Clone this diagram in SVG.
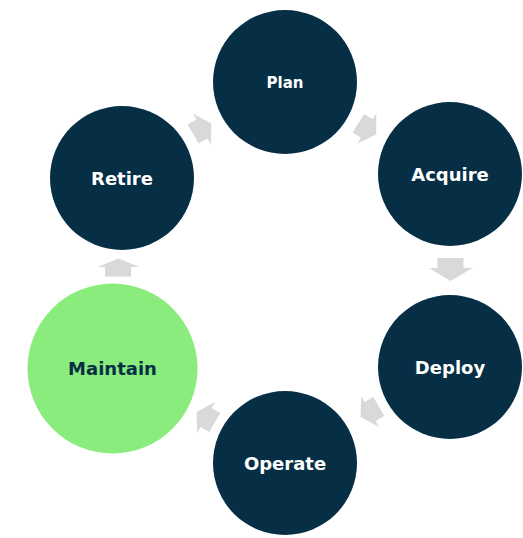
<svg xmlns="http://www.w3.org/2000/svg" width="523" height="538" viewBox="0 0 523 538">
<defs>
<style>
.node{fill:#062F46;}
.green{fill:#89EC7C;}
.lbl{font-family:"DejaVu Sans","Liberation Sans",sans-serif;font-weight:bold;fill:#FFFFFF;text-anchor:middle;}
.dark{fill:#062F46;}
.arr{fill:#D9D9D9;}
</style>
<path id="diag" d="M-9,-11 L1,-11 L1,-18 L12,0 L1,18 L1,11 L-9,11 Z"/>
</defs>
<rect width="523" height="538" fill="#FFFFFF"/>
<g id="connectors">
<use href="#diag" class="arr" transform="translate(366,128) rotate(32)"/>
<path class="arr" d="M437.5,258 L463.5,258 L463.5,268 L472.5,268 L450.5,281 L429,268 L437.5,268 Z"/>
<use href="#diag" class="arr" transform="translate(371,411) rotate(150)"/>
<use href="#diag" class="arr" transform="translate(207,418) rotate(210)"/>
<path class="arr" d="M105,276.5 L131,276.5 L131,267 L139.5,267 L118.5,258.5 L97.5,267 L105,267 Z"/>
<use href="#diag" class="arr" transform="translate(201,129.5) rotate(-30)"/>
</g>
<g id="plan">
<circle class="node" cx="285" cy="82" r="72"/>
<text class="lbl" x="285" y="87.5" font-size="15">Plan</text>
</g>
<g id="acquire">
<circle class="node" cx="450" cy="174" r="72"/>
<text class="lbl" x="450" y="180.5" font-size="18">Acquire</text>
</g>
<g id="deploy">
<circle class="node" cx="450" cy="367" r="72"/>
<text class="lbl" x="450" y="373.5" font-size="18">Deploy</text>
</g>
<g id="operate">
<circle class="node" cx="285" cy="463" r="72"/>
<text class="lbl" x="285" y="469.5" font-size="18">Operate</text>
</g>
<g id="maintain">
<circle class="green" cx="112.5" cy="368.5" r="85"/>
<text class="lbl dark" x="112.5" y="375" font-size="18">Maintain</text>
</g>
<g id="retire">
<circle class="node" cx="122" cy="178" r="72"/>
<text class="lbl" x="122" y="184.5" font-size="18">Retire</text>
</g>
</svg>
